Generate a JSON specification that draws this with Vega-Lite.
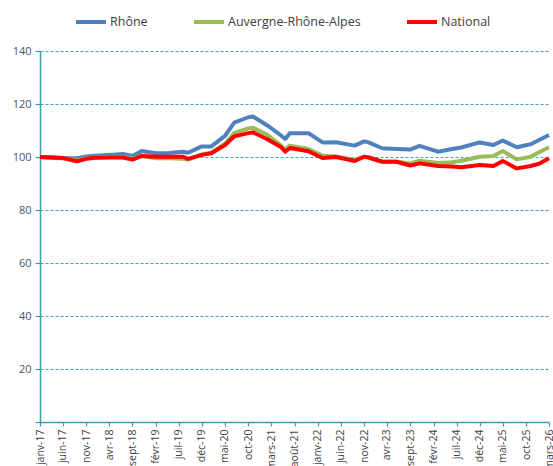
{
  "$schema": "https://vega.github.io/schema/vega-lite/v6.json",
  "autosize": {"type": "none"},
  "padding": {"left": 40, "top": 51, "right": 4, "bottom": 44},
  "width": 509,
  "height": 371,
  "background": "white",
  "config": {
    "view": {"stroke": null},
    "font": "Open Sans",
    "axis": {"domainColor": "#3a9fae", "tickColor": "#3a9fae", "domainWidth": 1.5, "tickWidth": 1.2}
  },
  "data": {
    "values": [
      {"mois": "2017-01-01", "serie": "Rhône", "valeur": 100},
      {"mois": "2017-04-01", "serie": "Rhône", "valeur": 99.6},
      {"mois": "2017-06-01", "serie": "Rhône", "valeur": 99.5},
      {"mois": "2017-09-01", "serie": "Rhône", "valeur": 99.5},
      {"mois": "2017-11-01", "serie": "Rhône", "valeur": 100.2},
      {"mois": "2018-01-01", "serie": "Rhône", "valeur": 100.5},
      {"mois": "2018-04-01", "serie": "Rhône", "valeur": 100.8},
      {"mois": "2018-07-01", "serie": "Rhône", "valeur": 101.1},
      {"mois": "2018-09-01", "serie": "Rhône", "valeur": 100.4},
      {"mois": "2018-11-01", "serie": "Rhône", "valeur": 102.3},
      {"mois": "2019-02-01", "serie": "Rhône", "valeur": 101.4},
      {"mois": "2019-05-01", "serie": "Rhône", "valeur": 101.5},
      {"mois": "2019-08-01", "serie": "Rhône", "valeur": 102},
      {"mois": "2019-09-01", "serie": "Rhône", "valeur": 101.6},
      {"mois": "2019-12-01", "serie": "Rhône", "valeur": 104},
      {"mois": "2020-02-01", "serie": "Rhône", "valeur": 104},
      {"mois": "2020-05-01", "serie": "Rhône", "valeur": 108},
      {"mois": "2020-07-01", "serie": "Rhône", "valeur": 113},
      {"mois": "2020-10-01", "serie": "Rhône", "valeur": 115},
      {"mois": "2020-11-01", "serie": "Rhône", "valeur": 115.3},
      {"mois": "2021-02-01", "serie": "Rhône", "valeur": 112},
      {"mois": "2021-05-01", "serie": "Rhône", "valeur": 108.3},
      {"mois": "2021-06-01", "serie": "Rhône", "valeur": 106.8},
      {"mois": "2021-07-01", "serie": "Rhône", "valeur": 109},
      {"mois": "2021-11-01", "serie": "Rhône", "valeur": 109},
      {"mois": "2022-02-01", "serie": "Rhône", "valeur": 105.5},
      {"mois": "2022-05-01", "serie": "Rhône", "valeur": 105.6},
      {"mois": "2022-09-01", "serie": "Rhône", "valeur": 104.3},
      {"mois": "2022-11-01", "serie": "Rhône", "valeur": 105.9},
      {"mois": "2022-12-01", "serie": "Rhône", "valeur": 105.5},
      {"mois": "2023-03-01", "serie": "Rhône", "valeur": 103.3},
      {"mois": "2023-06-01", "serie": "Rhône", "valeur": 103},
      {"mois": "2023-09-01", "serie": "Rhône", "valeur": 102.8},
      {"mois": "2023-11-01", "serie": "Rhône", "valeur": 104.2},
      {"mois": "2024-03-01", "serie": "Rhône", "valeur": 102},
      {"mois": "2024-06-01", "serie": "Rhône", "valeur": 103},
      {"mois": "2024-08-01", "serie": "Rhône", "valeur": 103.6},
      {"mois": "2024-12-01", "serie": "Rhône", "valeur": 105.5},
      {"mois": "2025-03-01", "serie": "Rhône", "valeur": 104.5},
      {"mois": "2025-05-01", "serie": "Rhône", "valeur": 106.2},
      {"mois": "2025-08-01", "serie": "Rhône", "valeur": 103.7},
      {"mois": "2025-11-01", "serie": "Rhône", "valeur": 104.8},
      {"mois": "2026-01-01", "serie": "Rhône", "valeur": 106.6},
      {"mois": "2026-03-01", "serie": "Rhône", "valeur": 108.3},

      {"mois": "2017-01-01", "serie": "Auvergne-Rhône-Alpes", "valeur": 100},
      {"mois": "2017-04-01", "serie": "Auvergne-Rhône-Alpes", "valeur": 99.8},
      {"mois": "2017-06-01", "serie": "Auvergne-Rhône-Alpes", "valeur": 99.6},
      {"mois": "2017-09-01", "serie": "Auvergne-Rhône-Alpes", "valeur": 98.8},
      {"mois": "2017-11-01", "serie": "Auvergne-Rhône-Alpes", "valeur": 99.5},
      {"mois": "2018-01-01", "serie": "Auvergne-Rhône-Alpes", "valeur": 99.8},
      {"mois": "2018-04-01", "serie": "Auvergne-Rhône-Alpes", "valeur": 100},
      {"mois": "2018-07-01", "serie": "Auvergne-Rhône-Alpes", "valeur": 100},
      {"mois": "2018-09-01", "serie": "Auvergne-Rhône-Alpes", "valeur": 99.4},
      {"mois": "2018-11-01", "serie": "Auvergne-Rhône-Alpes", "valeur": 100.5},
      {"mois": "2019-02-01", "serie": "Auvergne-Rhône-Alpes", "valeur": 99.5},
      {"mois": "2019-05-01", "serie": "Auvergne-Rhône-Alpes", "valeur": 99.5},
      {"mois": "2019-08-01", "serie": "Auvergne-Rhône-Alpes", "valeur": 99.3},
      {"mois": "2019-09-01", "serie": "Auvergne-Rhône-Alpes", "valeur": 99},
      {"mois": "2019-12-01", "serie": "Auvergne-Rhône-Alpes", "valeur": 101},
      {"mois": "2020-02-01", "serie": "Auvergne-Rhône-Alpes", "valeur": 101.6},
      {"mois": "2020-05-01", "serie": "Auvergne-Rhône-Alpes", "valeur": 105},
      {"mois": "2020-07-01", "serie": "Auvergne-Rhône-Alpes", "valeur": 109},
      {"mois": "2020-10-01", "serie": "Auvergne-Rhône-Alpes", "valeur": 110.8},
      {"mois": "2020-11-01", "serie": "Auvergne-Rhône-Alpes", "valeur": 111},
      {"mois": "2021-02-01", "serie": "Auvergne-Rhône-Alpes", "valeur": 108.5},
      {"mois": "2021-05-01", "serie": "Auvergne-Rhône-Alpes", "valeur": 104.5},
      {"mois": "2021-06-01", "serie": "Auvergne-Rhône-Alpes", "valeur": 102.8},
      {"mois": "2021-07-01", "serie": "Auvergne-Rhône-Alpes", "valeur": 104.3},
      {"mois": "2021-11-01", "serie": "Auvergne-Rhône-Alpes", "valeur": 103},
      {"mois": "2022-02-01", "serie": "Auvergne-Rhône-Alpes", "valeur": 100.5},
      {"mois": "2022-05-01", "serie": "Auvergne-Rhône-Alpes", "valeur": 100.2},
      {"mois": "2022-09-01", "serie": "Auvergne-Rhône-Alpes", "valeur": 98.9},
      {"mois": "2022-11-01", "serie": "Auvergne-Rhône-Alpes", "valeur": 100.1},
      {"mois": "2022-12-01", "serie": "Auvergne-Rhône-Alpes", "valeur": 99.8},
      {"mois": "2023-03-01", "serie": "Auvergne-Rhône-Alpes", "valeur": 98.2},
      {"mois": "2023-06-01", "serie": "Auvergne-Rhône-Alpes", "valeur": 98.3},
      {"mois": "2023-09-01", "serie": "Auvergne-Rhône-Alpes", "valeur": 97.6},
      {"mois": "2023-11-01", "serie": "Auvergne-Rhône-Alpes", "valeur": 98.6},
      {"mois": "2024-03-01", "serie": "Auvergne-Rhône-Alpes", "valeur": 97.7},
      {"mois": "2024-06-01", "serie": "Auvergne-Rhône-Alpes", "valeur": 98},
      {"mois": "2024-08-01", "serie": "Auvergne-Rhône-Alpes", "valeur": 98.6},
      {"mois": "2024-12-01", "serie": "Auvergne-Rhône-Alpes", "valeur": 100.1},
      {"mois": "2025-03-01", "serie": "Auvergne-Rhône-Alpes", "valeur": 100.4},
      {"mois": "2025-05-01", "serie": "Auvergne-Rhône-Alpes", "valeur": 102.3},
      {"mois": "2025-08-01", "serie": "Auvergne-Rhône-Alpes", "valeur": 99.1},
      {"mois": "2025-11-01", "serie": "Auvergne-Rhône-Alpes", "valeur": 100.1},
      {"mois": "2026-01-01", "serie": "Auvergne-Rhône-Alpes", "valeur": 102},
      {"mois": "2026-03-01", "serie": "Auvergne-Rhône-Alpes", "valeur": 103.7},

      {"mois": "2017-01-01", "serie": "National", "valeur": 100},
      {"mois": "2017-04-01", "serie": "National", "valeur": 99.8},
      {"mois": "2017-06-01", "serie": "National", "valeur": 99.6},
      {"mois": "2017-09-01", "serie": "National", "valeur": 98.4},
      {"mois": "2017-11-01", "serie": "National", "valeur": 99.3},
      {"mois": "2018-01-01", "serie": "National", "valeur": 99.7},
      {"mois": "2018-04-01", "serie": "National", "valeur": 99.8},
      {"mois": "2018-07-01", "serie": "National", "valeur": 99.8},
      {"mois": "2018-09-01", "serie": "National", "valeur": 99},
      {"mois": "2018-11-01", "serie": "National", "valeur": 100.4},
      {"mois": "2019-02-01", "serie": "National", "valeur": 100.1},
      {"mois": "2019-05-01", "serie": "National", "valeur": 100.1},
      {"mois": "2019-08-01", "serie": "National", "valeur": 100.1},
      {"mois": "2019-09-01", "serie": "National", "valeur": 99.3},
      {"mois": "2019-12-01", "serie": "National", "valeur": 100.8},
      {"mois": "2020-02-01", "serie": "National", "valeur": 101.4},
      {"mois": "2020-05-01", "serie": "National", "valeur": 104.5},
      {"mois": "2020-07-01", "serie": "National", "valeur": 107.8},
      {"mois": "2020-10-01", "serie": "National", "valeur": 109},
      {"mois": "2020-11-01", "serie": "National", "valeur": 109.3},
      {"mois": "2021-02-01", "serie": "National", "valeur": 106.8},
      {"mois": "2021-05-01", "serie": "National", "valeur": 103.9},
      {"mois": "2021-06-01", "serie": "National", "valeur": 102},
      {"mois": "2021-07-01", "serie": "National", "valeur": 103.4},
      {"mois": "2021-11-01", "serie": "National", "valeur": 102.2},
      {"mois": "2022-02-01", "serie": "National", "valeur": 99.6},
      {"mois": "2022-05-01", "serie": "National", "valeur": 100},
      {"mois": "2022-09-01", "serie": "National", "valeur": 98.5},
      {"mois": "2022-11-01", "serie": "National", "valeur": 100.1},
      {"mois": "2022-12-01", "serie": "National", "valeur": 99.8},
      {"mois": "2023-03-01", "serie": "National", "valeur": 98.2},
      {"mois": "2023-06-01", "serie": "National", "valeur": 98.2},
      {"mois": "2023-09-01", "serie": "National", "valeur": 96.8},
      {"mois": "2023-11-01", "serie": "National", "valeur": 97.6},
      {"mois": "2024-03-01", "serie": "National", "valeur": 96.6},
      {"mois": "2024-06-01", "serie": "National", "valeur": 96.4},
      {"mois": "2024-08-01", "serie": "National", "valeur": 96.1},
      {"mois": "2024-12-01", "serie": "National", "valeur": 97},
      {"mois": "2025-03-01", "serie": "National", "valeur": 96.6},
      {"mois": "2025-05-01", "serie": "National", "valeur": 98.5},
      {"mois": "2025-08-01", "serie": "National", "valeur": 95.7},
      {"mois": "2025-11-01", "serie": "National", "valeur": 96.6},
      {"mois": "2026-01-01", "serie": "National", "valeur": 97.6},
      {"mois": "2026-03-01", "serie": "National", "valeur": 99.5}
    ]
  },
  "encoding": {
    "x": {
      "field": "mois",
      "type": "temporal",
      "scale": {
        "type": "utc",
        "nice": false,
        "domain": [
          {"year": 2017, "month": 1, "date": 1, "utc": true},
          {"year": 2026, "month": 3, "date": 1, "utc": true}
        ]
      },
      "axis": {
        "title": null,
        "grid": false,
        "values": [
          {"year": 2017, "month": 1, "date": 1, "utc": true},
          {"year": 2017, "month": 6, "date": 1, "utc": true},
          {"year": 2017, "month": 11, "date": 1, "utc": true},
          {"year": 2018, "month": 4, "date": 1, "utc": true},
          {"year": 2018, "month": 9, "date": 1, "utc": true},
          {"year": 2019, "month": 2, "date": 1, "utc": true},
          {"year": 2019, "month": 7, "date": 1, "utc": true},
          {"year": 2019, "month": 12, "date": 1, "utc": true},
          {"year": 2020, "month": 5, "date": 1, "utc": true},
          {"year": 2020, "month": 10, "date": 1, "utc": true},
          {"year": 2021, "month": 3, "date": 1, "utc": true},
          {"year": 2021, "month": 8, "date": 1, "utc": true},
          {"year": 2022, "month": 1, "date": 1, "utc": true},
          {"year": 2022, "month": 6, "date": 1, "utc": true},
          {"year": 2022, "month": 11, "date": 1, "utc": true},
          {"year": 2023, "month": 4, "date": 1, "utc": true},
          {"year": 2023, "month": 9, "date": 1, "utc": true},
          {"year": 2024, "month": 2, "date": 1, "utc": true},
          {"year": 2024, "month": 7, "date": 1, "utc": true},
          {"year": 2024, "month": 12, "date": 1, "utc": true},
          {"year": 2025, "month": 5, "date": 1, "utc": true},
          {"year": 2025, "month": 10, "date": 1, "utc": true},
          {"year": 2026, "month": 3, "date": 1, "utc": true}
        ],
        "labelExpr": "['janv','févr','mars','avr','mai','juin','juil','août','sept','oct','nov','déc'][utcmonth(datum.value)] + '-' + utcFormat(datum.value, '%y')",
        "labelAngle": -90,
        "labelFontSize": 10.5,
        "labelColor": "#404040",
        "labelFont": "Open Sans",
        "labelOverlap": false,
        "labelFlush": false,
        "labelBound": false,
        "tickSize": 4,
        "labelPadding": 3
      }
    },
    "y": {
      "field": "valeur",
      "type": "quantitative",
      "scale": {"domain": [0, 140], "nice": false, "zero": true},
      "axis": {
        "title": null,
        "values": [0, 20, 40, 60, 80, 100, 120, 140],
        "labelExpr": "datum.value == 0 ? '' : datum.label",
        "labelFontSize": 11,
        "labelColor": "#44546a",
        "labelFont": "Open Sans",
        "tickSize": 5,
        "labelPadding": 4,
        "grid": true,
        "gridColor": "#3aa6b9",
        "gridDash": [3, 2],
        "gridWidth": 1
      }
    },
    "color": {
      "field": "serie",
      "type": "nominal",
      "scale": {
        "domain": ["Rhône", "Auvergne-Rhône-Alpes", "National"],
        "range": ["#4f81bd", "#9bbb59", "#ff0000"]
      },
      "legend": {
        "title": null,
        "orient": "none",
        "direction": "horizontal",
        "columns": 3,
        "legendX": 34,
        "legendY": -46,
        "symbolType": "stroke",
        "symbolSize": 900,
        "symbolStrokeWidth": 4,
        "labelFontSize": 12.5,
        "labelColor": "#404040",
        "labelFont": "Open Sans",
        "labelOffset": 2,
        "columnPadding": 38
      }
    }
  },
  "layer": [
    {
      "transform": [{"filter": "datum.serie == 'Rhône'"}],
      "mark": {"type": "line", "strokeWidth": 4, "strokeJoin": "round"}
    },
    {
      "transform": [{"filter": "datum.serie == 'Auvergne-Rhône-Alpes'"}],
      "mark": {"type": "line", "strokeWidth": 4, "strokeJoin": "round"}
    },
    {
      "transform": [{"filter": "datum.serie == 'National'"}],
      "mark": {"type": "line", "strokeWidth": 4, "strokeJoin": "round"}
    }
  ]
}
